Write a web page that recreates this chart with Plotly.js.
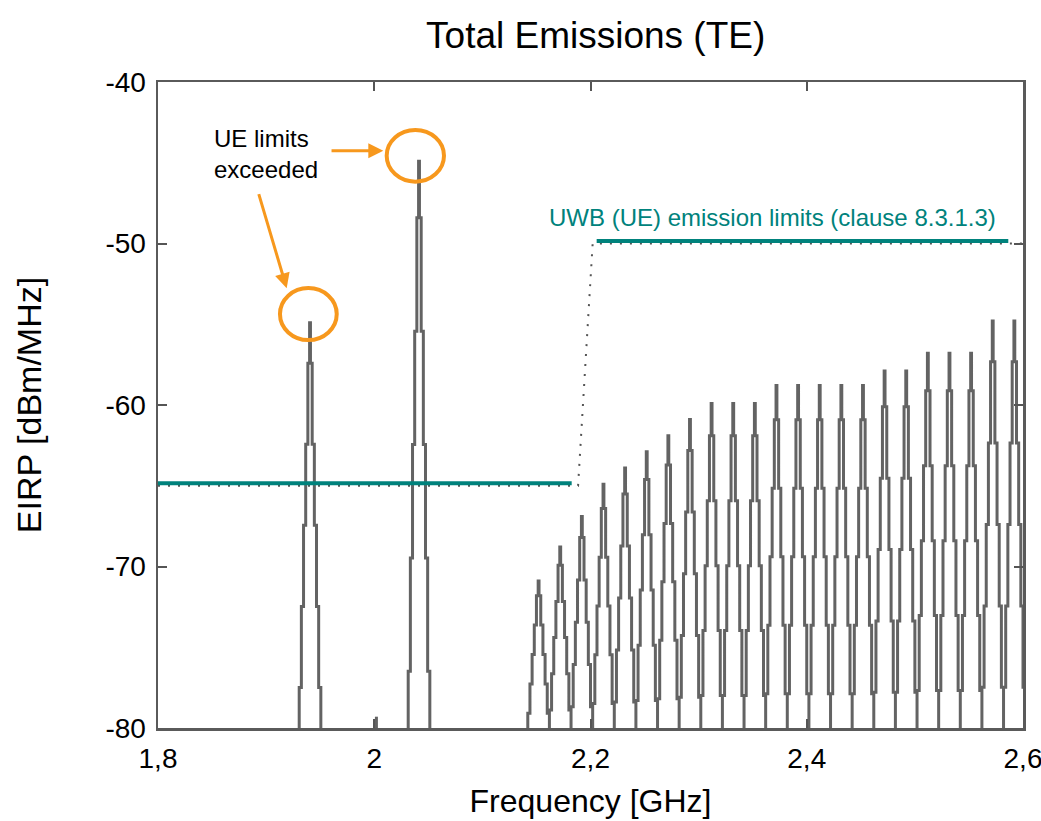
<!DOCTYPE html>
<html>
<head>
<meta charset="utf-8">
<script src="https://cdn.plot.ly/plotly-3.0.1.min.js"></script>
<style>html,body{margin:0;padding:0;background:#fff;}#chart{width:1041px;height:821px;}</style>
</head>
<body>
<div id="chart"></div>
<script>
// ---- data ----
// isolated emissions (GHz, dBm/MHz peak)
const isoFreq = [1.9406, 2.0414];
const isoPeak = [-54.9, -44.9];
// tiny spur near 2 GHz
const spurFreq = [2.002];
const spurPeak = [-79.3];
// comb of tones above 2.15 GHz
const combFreq = [2.152, 2.172, 2.192, 2.212, 2.232, 2.252, 2.272, 2.292, 2.312, 2.332, 2.352, 2.372,
                  2.392, 2.412, 2.432, 2.452, 2.472, 2.492, 2.512, 2.532, 2.552, 2.572, 2.592];
const combPeak = [-70.9, -68.8, -66.9, -64.9, -63.9, -62.9, -61.9, -60.9, -59.9, -59.9, -59.9, -58.8,
                  -58.8, -58.8, -58.8, -58.8, -57.9, -57.9, -56.8, -56.8, -56.8, -54.8, -54.8];
// stepped shape of one emission line: offset (MHz) and fraction of height above the -80 floor
const toneOffsetMHz = [-10, -10, -8, -6, -4, -2, -0.4, 0.4, 2, 4, 6, 8, 10];
const toneLevelFrac = [0, 0.1, 0.3, 0.5, 0.7, 0.9, 1.0, 0.9, 0.7, 0.5, 0.3, 0.1, 0];
const floorLevel = -80;
// original (dotted) limit mask
const maskFreq = [1.8, 2.1885, 2.202, 2.6];
const maskLevel = [-65, -65, -50, -50];
// highlighted UWB (UE) limit lines
const limitFreq = [1.8, 2.1826, null, 2.2057, 2.5864];
const limitLevel = [-64.85, -64.85, null, -49.85, -49.85];
// tick labels
const xTickVals = [1.8, 2.0, 2.2, 2.4, 2.6];
const xTickText = ['1,8', '2', '2,2', '2,4', '2,6'];
const yTickVals = [-80, -70, -60, -50, -40];
const yTickText = ['-80', '-70', '-60', '-50', '-40'];

// ---- build the spectrum trace ----
function tonePoints(f, p, xs, ys) {
  for (let i = 0; i < toneOffsetMHz.length; i++) {
    xs.push(f + toneOffsetMHz[i] / 1000);
    ys.push(floorLevel + (p - floorLevel) * toneLevelFrac[i]);
  }
}
const specX = [], specY = [];
for (let i = 0; i < isoFreq.length; i++) {
  tonePoints(isoFreq[i], isoPeak[i], specX, specY);
  specX.push(null); specY.push(null);
}
for (let i = 0; i < spurFreq.length; i++) {
  specX.push(spurFreq[i], spurFreq[i], null);
  specY.push(floorLevel, spurPeak[i], null);
}
for (let i = 0; i < combFreq.length; i++) tonePoints(combFreq[i], combPeak[i], specX, specY);

const FONT = 'Liberation Sans, Arial, Helvetica, sans-serif';
const ORANGE = '#F7981D';
const TEAL = '#00827C';

const traces = [
  {x: maskFreq, y: maskLevel, type: 'scatter', mode: 'lines',
   line: {color: '#555', width: 2, dash: '2px,8px'}, hoverinfo: 'skip'},
  {x: specX, y: specY, type: 'scatter', mode: 'lines', connectgaps: false,
   line: {color: '#636363', width: 3, shape: 'hv'}, hoverinfo: 'skip'},
  {x: limitFreq, y: limitLevel, type: 'scatter', mode: 'lines', connectgaps: false,
   line: {color: TEAL, width: 4}, hoverinfo: 'skip'}
];

const layout = {
  width: 1041, height: 821,
  margin: {l: 158, r: 18, t: 82, b: 93},
  paper_bgcolor: '#fff', plot_bgcolor: '#fff',
  showlegend: false,
  font: {family: FONT, color: '#000'},
  title: {text: 'Total Emissions (TE)', font: {family: FONT, size: 37, color: '#000'},
          x: 0.506, xref: 'paper', xanchor: 'center', y: 1 - 35 / 821, yref: 'container', yanchor: 'middle'},
  xaxis: {range: [1.8, 2.6], tickvals: xTickVals, ticktext: xTickText,
          ticks: 'inside', ticklen: 9, tickwidth: 2, tickcolor: '#555',
          showline: true, linecolor: '#5a5a5a', linewidth: 2.5, mirror: 'ticks',
          showgrid: false, zeroline: false, tickfont: {size: 28, family: FONT},
          ticklabeloverflow: 'allow', ticklabelstandoff: 4,
          title: {text: 'Frequency [GHz]', font: {size: 32, family: FONT}, standoff: 17}},
  yaxis: {range: [-80, -40], tickvals: yTickVals, ticktext: yTickText,
          ticks: 'inside', ticklen: 9, tickwidth: 2, tickcolor: '#555',
          showline: true, linecolor: '#5a5a5a', linewidth: 2.5, mirror: 'ticks',
          showgrid: false, zeroline: false, tickfont: {size: 28, family: FONT},
          ticklabeloverflow: 'allow', ticklabelstandoff: 4,
          title: {text: 'EIRP [dBm/MHz]', font: {size: 34, family: FONT}, standoff: 54}},
  shapes: [
    {type: 'circle', xref: 'x', yref: 'y', x0: 1.9128, x1: 1.9653, y0: -55.98, y1: -52.76,
     line: {color: ORANGE, width: 4}},
    {type: 'circle', xref: 'x', yref: 'y', x0: 2.0115, x1: 2.0645, y0: -46.17, y1: -42.97,
     line: {color: ORANGE, width: 4}}
  ],
  annotations: [
    {x: 1.8495, y: -44.46, xref: 'x', yref: 'y', text: 'UE limits<br>exceeded', showarrow: false,
     xanchor: 'left', yanchor: 'middle', align: 'left', font: {size: 24, family: FONT, color: '#000'}},
    {x: 2.0084, y: -44.25, ax: 1.9591, ay: -44.25, xref: 'x', yref: 'y', axref: 'x', ayref: 'y',
     text: '', showarrow: true, arrowhead: 2, arrowsize: 1, arrowwidth: 3, arrowcolor: ORANGE},
    {x: 1.919, y: -52.77, ax: 1.8928, ay: -46.85, xref: 'x', yref: 'y', axref: 'x', ayref: 'y',
     text: '', showarrow: true, arrowhead: 2, arrowsize: 1, arrowwidth: 3, arrowcolor: ORANGE},
    {x: 2.1598, y: -48.42, xref: 'x', yref: 'y', text: 'UWB (UE) emission limits (clause 8.3.1.3)',
     showarrow: false, xanchor: 'left', yanchor: 'middle', font: {size: 24, family: FONT, color: TEAL}}
  ]
};

Plotly.newPlot('chart', traces, layout, {staticPlot: true, displayModeBar: false});
</script>
</body>
</html>
